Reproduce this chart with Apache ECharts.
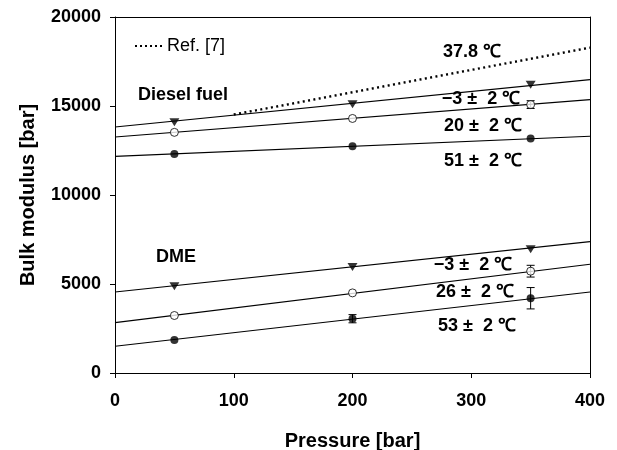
<!DOCTYPE html>
<html>
<head>
<meta charset="utf-8">
<title>Bulk modulus vs pressure</title>
<script src="https://cdn.jsdelivr.net/npm/echarts@6/dist/echarts.min.js"></script>
<style>
  html, body { margin: 0; padding: 0; background: #fff; }
  #chart { width: 617px; height: 450px; }
</style>
</head>
<body>
<div id="chart"></div>
<script>
// Measured pressures [bar]
const pressure = [50, 200, 350];
// Pressure span covered by the fitted lines [bar]
const fitPressure = [0, 400];

// Diesel fuel bulk modulus [bar]
const dieselM3 = [14090, 15100, 16200];   // -3 ± 2 °C
const diesel20 = [13520, 14300, 15080];   // 20 ± 2 °C
const diesel51 = [12300, 12740, 13170];   // 51 ± 2 °C
// DME bulk modulus [bar]
const dmeM3 = [4880, 5950, 6950];         // -3 ± 2 °C
const dme26 = [3230, 4500, 5720];         // 26 ± 2 °C
const dme53 = [1860, 3050, 4200];         // 53 ± 2 °C

// Linear fits, values at 0 and 400 bar
const dieselM3Fit = [13820, 16480];
const diesel20Fit = [13260, 15360];
const diesel51Fit = [12170, 13300];
const dmeM3Fit = [4550, 7380];
const dme26Fit = [2830, 6110];
const dme53Fit = [1500, 4550];

// Reference correlation at 37.8 °C
const refPressure = [100, 400];
const refValues = [14520, 18280];

// Error bars: pressure, mean value, half range
const errPressure = [350, 350, 200, 350];
const errMid = [15080, 5720, 3050, 4200];
const errHalf = [220, 330, 230, 600];

// Axis ticks
const xTicks = [0, 100, 200, 300, 400];
const yTicks = [0, 5000, 10000, 15000, 20000];

const pairs = (xs, ys) => xs.map((x, i) => [x, ys[i]]);
const FONT = '"Liberation Sans", Arial, sans-serif';
// Dotted legend swatch: a row of small squares
const DOTTED_ICON = 'path://M0,0h2v2h-2z M5,0h2v2h-2z M10,0h2v2h-2z M15,0h2v2h-2z M20,0h2v2h-2z M25,0h2v2h-2z';

function fitLine(name, ends) {
  return {
    name: name, type: 'line', data: pairs(fitPressure, ends),
    symbol: 'none', silent: true, z: 2,
    lineStyle: { color: '#000', width: 1.1 }
  };
}
function markers(name, values, kind) {
  const base = {
    name: name, type: 'scatter', data: pairs(pressure, values), z: 5, silent: true
  };
  if (kind === 'tri') {
    return Object.assign(base, {
      symbol: 'triangle', symbolSize: [10, 8], symbolRotate: 180,
      itemStyle: { color: '#000' }
    });
  }
  if (kind === 'open') {
    return Object.assign(base, {
      symbol: 'circle', symbolSize: 8,
      itemStyle: { color: '#fff', borderColor: '#000', borderWidth: 1 }
    });
  }
  return Object.assign(base, {
    symbol: 'circle', symbolSize: 8, itemStyle: { color: '#000' }
  });
}

const errData = errPressure.map((p, i) => [p, errMid[i] - errHalf[i], errMid[i] + errHalf[i]]);

const chart = echarts.init(document.getElementById('chart'), null, { renderer: 'canvas' });

function label(text, x, y) {
  return {
    type: 'text', x: x, y: y, z: 10,
    style: {
      text: text, align: 'center', verticalAlign: 'middle',
      font: 'bold 18px ' + FONT, fill: '#000'
    }
  };
}

const option = {
  animation: false,
  backgroundColor: '#fff',
  grid: {
    left: 115, right: 27, top: 17, bottom: 77,
    containLabel: false, outerBoundsMode: 'none'
  },
  legend: {
    data: [{ name: 'Ref. [7]', icon: DOTTED_ICON }],
    left: 130, top: 32,
    itemWidth: 27, itemHeight: 2.2, itemGap: 8,
    itemStyle: { color: '#000', borderWidth: 0 },
    textStyle: { fontFamily: FONT, fontSize: 18, color: '#000', padding: [0, 0, 0, 0] },
    selectedMode: false
  },
  xAxis: [{
    type: 'value', min: xTicks[0], max: xTicks[xTicks.length - 1], interval: xTicks[1] - xTicks[0],
    name: 'Pressure [bar]', nameLocation: 'middle', nameGap: 58,
    nameTextStyle: { fontFamily: FONT, fontSize: 20, fontWeight: 'bold', color: '#000' },
    axisLine: { show: true, onZero: false, lineStyle: { color: '#000', width: 1 } },
    axisTick: { show: true, inside: false, length: 5, lineStyle: { color: '#000' } },
    axisLabel: { margin: 19, fontFamily: FONT, fontSize: 18, fontWeight: 'bold', color: '#000' },
    splitLine: { show: false }
  }, {
    type: 'value', position: 'top', min: xTicks[0], max: xTicks[xTicks.length - 1],
    axisLine: { show: true, onZero: false, lineStyle: { color: '#000', width: 1 } },
    axisTick: { show: false }, axisLabel: { show: false }, splitLine: { show: false }
  }],
  yAxis: [{
    type: 'value', min: yTicks[0], max: yTicks[yTicks.length - 1], interval: yTicks[1] - yTicks[0],
    name: 'Bulk modulus [bar]', nameLocation: 'middle', nameGap: 77,
    nameTextStyle: { fontFamily: FONT, fontSize: 20, fontWeight: 'bold', color: '#000' },
    axisLine: { show: true, onZero: false, lineStyle: { color: '#000', width: 1 } },
    axisTick: { show: true, inside: false, length: 5, lineStyle: { color: '#000' } },
    axisLabel: {
      margin: 14, fontFamily: FONT, fontSize: 18, fontWeight: 'bold', color: '#000',
      formatter: (v) => String(v)
    },
    splitLine: { show: false }
  }, {
    type: 'value', position: 'right', min: yTicks[0], max: yTicks[yTicks.length - 1],
    axisLine: { show: true, onZero: false, lineStyle: { color: '#000', width: 1 } },
    axisTick: { show: false }, axisLabel: { show: false }, splitLine: { show: false }
  }],
  series: [
    {
      name: 'Ref. [7]', type: 'line', data: pairs(refPressure, refValues),
      symbol: 'none', z: 3, silent: true,
      itemStyle: { color: '#000' },
      lineStyle: { color: '#000', width: 2.4, type: [2, 3.4] }
    },
    fitLine('diesel -3 fit', dieselM3Fit),
    fitLine('diesel 20 fit', diesel20Fit),
    fitLine('diesel 51 fit', diesel51Fit),
    fitLine('dme -3 fit', dmeM3Fit),
    fitLine('dme 26 fit', dme26Fit),
    fitLine('dme 53 fit', dme53Fit),
    {
      name: 'error bars', type: 'custom', z: 4, silent: true,
      data: errData,
      renderItem: function (params, api) {
        const x = api.coord([api.value(0), api.value(1)])[0];
        const lo = api.coord([api.value(0), api.value(1)])[1];
        const hi = api.coord([api.value(0), api.value(2)])[1];
        const half = 4;
        const st = { stroke: '#000', lineWidth: 1 };
        return {
          type: 'group',
          children: [
            { type: 'line', shape: { x1: x, y1: lo, x2: x, y2: hi }, style: st },
            { type: 'line', shape: { x1: x - half, y1: lo, x2: x + half, y2: lo }, style: st },
            { type: 'line', shape: { x1: x - half, y1: hi, x2: x + half, y2: hi }, style: st }
          ]
        };
      }
    },
    markers('diesel -3', dieselM3, 'tri'),
    markers('diesel 20', diesel20, 'open'),
    markers('diesel 51', diesel51, 'filled'),
    markers('dme -3', dmeM3, 'tri'),
    markers('dme 26', dme26, 'open'),
    markers('dme 53', dme53, 'filled')
  ],
  graphic: [
    label('Diesel fuel', 183, 95),
    label('DME', 176, 257),
    label('37.8 \u2103', 472, 52),
    label('\u22123 \u00b1  2 \u2103', 481, 99),
    label('20 \u00b1  2 \u2103', 483, 126),
    label('51 \u00b1  2 \u2103', 483, 161),
    label('\u22123 \u00b1  2 \u2103', 473, 265),
    label('26 \u00b1  2 \u2103', 475, 292),
    label('53 \u00b1  2 \u2103', 477, 326)
  ]
};

chart.setOption(option);
</script>
</body>
</html>
